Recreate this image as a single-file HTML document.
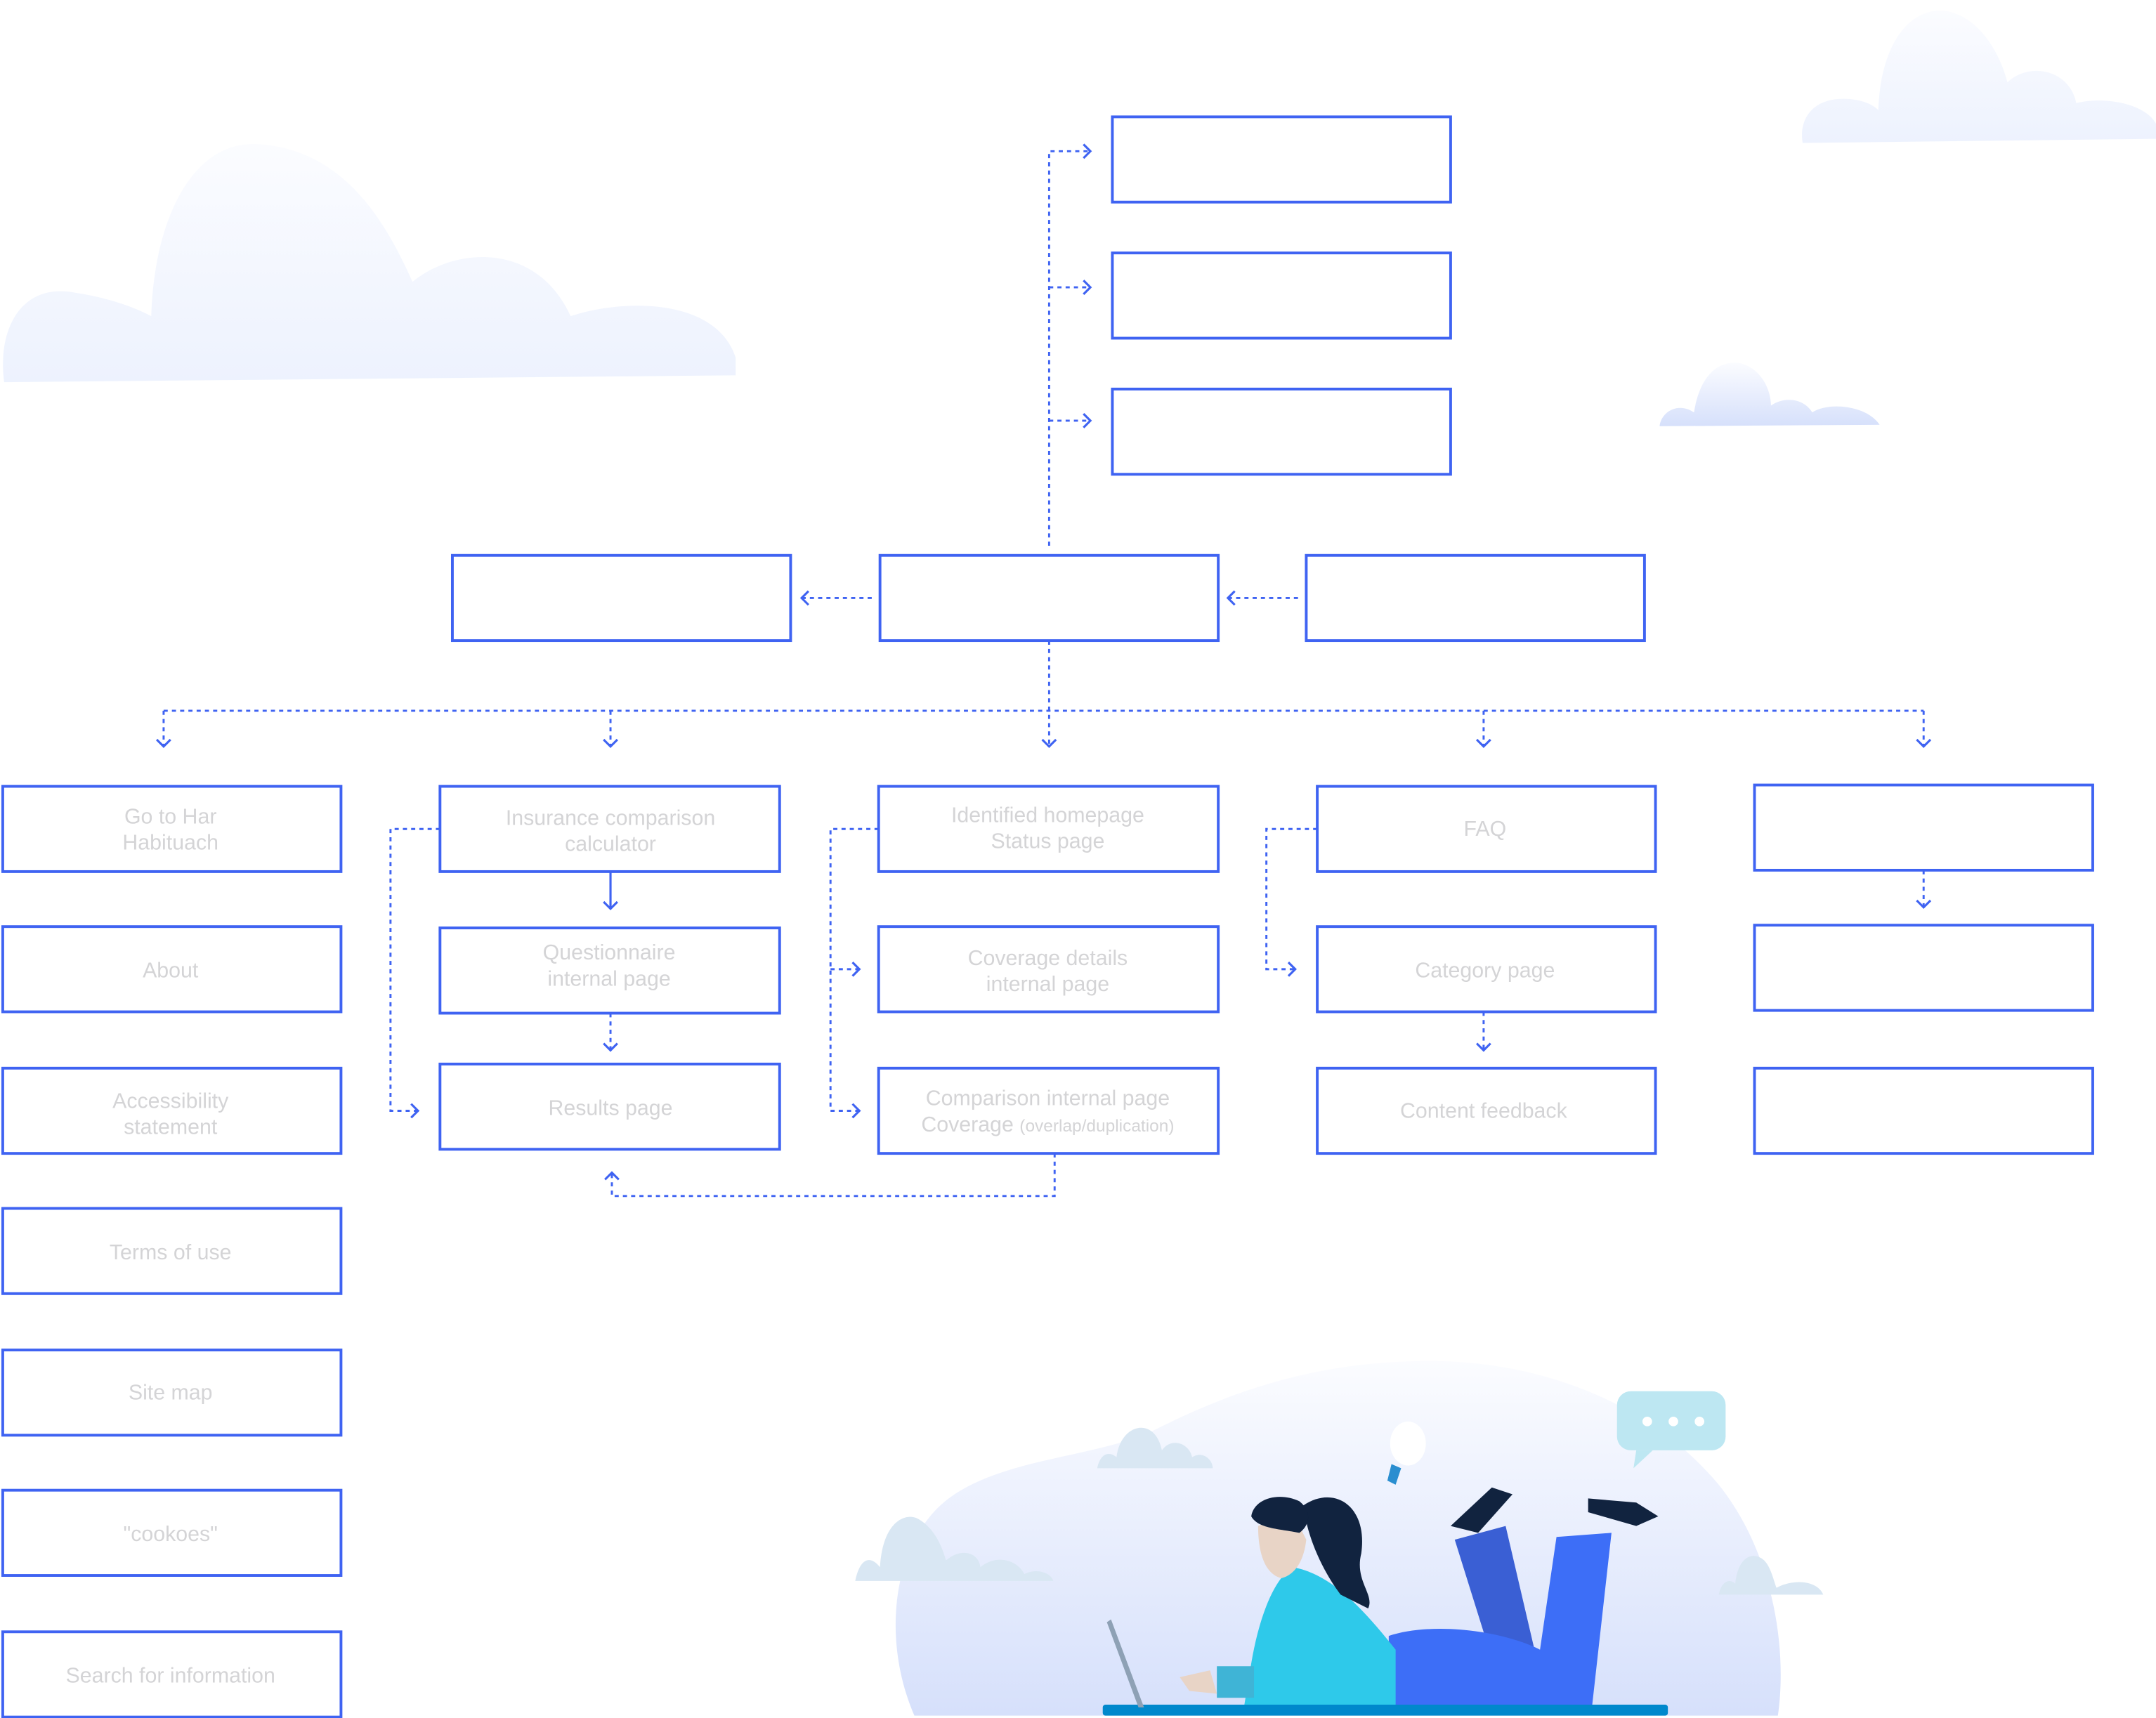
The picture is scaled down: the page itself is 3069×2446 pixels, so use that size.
<!DOCTYPE html>
<html><head><meta charset="utf-8"><style>
html,body{margin:0;padding:0;background:#fff;}
svg{display:block}
text{font-family:"Liberation Sans",sans-serif;font-size:15.5px;fill:#d4d4d6;text-anchor:middle}
</style></head><body>
<svg width="3069" height="2446" viewBox="0 0 1568 1249.7" xmlns="http://www.w3.org/2000/svg">
<defs>
<linearGradient id="cl" x1="0" y1="0" x2="0" y2="1"><stop offset="0" stop-color="#fbfcff"/><stop offset="1" stop-color="#edf2fe"/></linearGradient>
<linearGradient id="bl" x1="0" y1="0" x2="0" y2="1"><stop offset="0" stop-color="#fbfcff"/><stop offset="1" stop-color="#d6e0fb"/></linearGradient>
</defs>
<path d="M3,278 C-2,240 15,205 55,213 C75,216 95,222 110,230 C112,160 140,100 190,105 C250,110 280,160 300,205 C330,180 390,175 415,230 C450,218 520,215 535,260 L535,273 Z" fill="url(#cl)"/>
<path d="M1311,104 C1308,85 1320,70 1345,72 C1355,73 1362,76 1366,80 C1368,30 1390,5 1415,8 C1440,12 1455,40 1460,60 C1475,45 1505,50 1510,75 C1530,70 1560,75 1568,90 L1568,101 Z" fill="url(#cl)"/>
<path d="M1207,310 C1208,300 1220,292 1232,300 C1236,275 1248,262 1265,264 C1282,268 1288,285 1288,295 C1298,288 1312,290 1318,300 C1330,292 1358,295 1367,309 Z" fill="url(#bl)"/>
<path d="M665,1248 C640,1190 650,1120 690,1090 C730,1060 800,1060 840,1040 C900,1010 960,990 1040,990 C1120,990 1200,1020 1250,1080 C1290,1130 1300,1200 1293,1248 Z" fill="url(#bl)"/>
<path d="M798,1068 C800,1058 806,1055 812,1060 C815,1035 840,1030 845,1055 C852,1045 865,1050 867,1060 C875,1055 882,1062 882,1068 Z" fill="#d9e7f3"/>
<path d="M622,1150 C625,1135 632,1130 640,1140 C642,1105 660,1100 668,1105 C680,1112 685,1125 688,1135 C700,1125 712,1130 713,1140 C725,1130 740,1135 745,1145 C755,1140 765,1145 766,1150 Z" fill="#d9e7f3"/>
<path d="M1250,1160 C1252,1150 1258,1148 1262,1152 C1264,1132 1275,1128 1283,1135 C1288,1140 1290,1150 1292,1155 C1305,1148 1322,1150 1326,1160 Z" fill="#d9e7f3"/>
<rect x="1176" y="1012" width="79" height="43" rx="10" fill="#bde7f2"/>
<path d="M1190,1055 L1188,1068 L1202,1055 Z" fill="#bde7f2"/>
<circle cx="1198" cy="1034" r="3.5" fill="#fff"/><circle cx="1217" cy="1034" r="3.5" fill="#fff"/><circle cx="1236" cy="1034" r="3.5" fill="#fff"/>
<ellipse cx="1024" cy="1050" rx="13" ry="16" fill="#fff"/>
<path d="M1012,1065 L1019,1068 L1015,1080 L1009,1077 Z" fill="#2a8ed0"/>
<rect x="802" y="1240" width="411" height="8" rx="2" fill="#0088cc"/>
<path d="M805,1180 L808,1178 L832,1242 L828,1242 Z" fill="#8ea1b5"/>
<path d="M1058,1120 L1095,1110 L1116,1200 L1083,1200 Z" fill="#3a5fd4"/>
<path d="M1010,1190 C1040,1180 1090,1185 1120,1200 L1132,1118 L1172,1115 L1158,1240 L1010,1240 Z" fill="#3d6ef7"/>
<path d="M1055,1110 L1085,1082 L1100,1087 L1075,1115 Z" fill="#11233f"/>
<path d="M1155,1090 L1190,1093 L1206,1103 L1190,1110 L1155,1100 Z" fill="#11233f"/>
<path d="M940,1140 C970,1145 995,1175 1015,1200 L1015,1240 L905,1240 L910,1210 C915,1180 925,1150 940,1140 Z" fill="#2ec9ea"/>
<path d="M885,1212 L912,1212 L912,1235 L885,1235 Z" fill="#3fb4d6"/>
<path d="M858,1220 L880,1215 L885,1232 L865,1230 Z" fill="#e8d4c6"/>
<path d="M948,1095 C970,1080 995,1095 990,1130 C985,1150 1000,1160 995,1170 L975,1160 C960,1140 950,1115 948,1095 Z" fill="#11233f"/>
<path d="M915,1110 C915,1130 920,1145 932,1148 C940,1146 948,1138 950,1120 L940,1100 Z" fill="#e8d4c6"/>
<path d="M910,1103 C912,1090 930,1085 945,1092 C955,1100 952,1110 945,1115 C930,1112 915,1112 910,1103 Z" fill="#11233f"/>
<g fill="none" stroke="#3f63f2" stroke-width="1.5" stroke-dasharray="3 3">
<path d="M763,397 V110 H792 M763,209 H792 M763,306 H792"/>
<path d="M634,435 H583 M944,435 H893"/>
<path d="M763,466 V543 M119,517 H1399 M119,517 V543 M444,517 V543 M1079,517 V543 M1399,517 V543"/>
<path d="M320,603 H284 V808 H304"/>
<path d="M444,737 V764"/>
<path d="M639,603 H604 V808 H625 M604,705 H625"/>
<path d="M958,603 H921 V705 H942"/>
<path d="M1079,736 V764"/>
<path d="M1399,633 V660"/>
<path d="M767,839 V870 H445 V853"/>
</g>
<path d="M444,634 V661" stroke="#3f63f2" stroke-width="1.6" fill="none"/>
<g fill="none" stroke="#3f63f2" stroke-width="1.6">
<path d="M788,105 L793,110 L788,115 M788,204 L793,209 L788,214 M788,301 L793,306 L788,311"/>
<path d="M588,430 L583,435 L588,440 M898,430 L893,435 L898,440"/>
<path d="M114,538 L119,543 L124,538 M439,538 L444,543 L449,538 M758,538 L763,543 L768,538 M1074,538 L1079,543 L1084,538 M1394,538 L1399,543 L1404,538"/>
<path d="M299,803 L304,808 L299,813"/>
<path d="M439,656 L444,661 L449,656 M439,759 L444,764 L449,759"/>
<path d="M620,700 L625,705 L620,710 M620,803 L625,808 L620,813"/>
<path d="M937,700 L942,705 L937,710 M1074,759 L1079,764 L1084,759 M1394,655 L1399,660 L1404,655"/>
<path d="M440,858 L445,853 L450,858"/>
</g>
<g fill="none" stroke="#3f63f2" stroke-width="2">
<rect x="809" y="85" width="246" height="62"/>
<rect x="809" y="184" width="246" height="62"/>
<rect x="809" y="283" width="246" height="62"/>
<rect x="329" y="404" width="246" height="62"/>
<rect x="640" y="404" width="246" height="62"/>
<rect x="950" y="404" width="246" height="62"/>
<rect x="2" y="572" width="246" height="62"/>
<rect x="2" y="674" width="246" height="62"/>
<rect x="2" y="777" width="246" height="62"/>
<rect x="2" y="879" width="246" height="62"/>
<rect x="2" y="982" width="246" height="62"/>
<rect x="2" y="1084" width="246" height="62"/>
<rect x="2" y="1187" width="246" height="62"/>
<rect x="320" y="572" width="247" height="62"/>
<rect x="320" y="675" width="247" height="62"/>
<rect x="320" y="774" width="247" height="62"/>
<rect x="639" y="572" width="247" height="62"/>
<rect x="639" y="674" width="247" height="62"/>
<rect x="639" y="777" width="247" height="62"/>
<rect x="958" y="572" width="246" height="62"/>
<rect x="958" y="674" width="246" height="62"/>
<rect x="958" y="777" width="246" height="62"/>
<rect x="1276" y="571" width="246" height="62"/>
<rect x="1276" y="673" width="246" height="62"/>
<rect x="1276" y="777" width="246" height="62"/>
</g>
<text x="124" y="599">Go to Har</text><text x="124" y="618">Habituach</text>
<text x="124" y="711">About</text>
<text x="124" y="806">Accessibility</text><text x="124" y="825">statement</text>
<text x="124" y="916">Terms of use</text>
<text x="124" y="1018">Site map</text>
<text x="124" y="1121">"cookoes"</text>
<text x="124" y="1224">Search for information</text>
<text x="444" y="600">Insurance comparison</text><text x="444" y="619">calculator</text>
<text x="443" y="698">Questionnaire</text><text x="443" y="717">internal page</text>
<text x="444" y="811">Results page</text>
<text x="762" y="598">Identified homepage</text><text x="762" y="617">Status page</text>
<text x="762" y="702">Coverage details</text><text x="762" y="721">internal page</text>
<text x="762" y="804">Comparison internal page</text>
<text x="762" y="823">Coverage <tspan style="font-size:12.5px">(overlap/duplication)</tspan></text>
<text x="1080" y="608">FAQ</text>
<text x="1080" y="711">Category page</text>
<text x="1079" y="813">Content feedback</text>
</svg>
</body></html>
